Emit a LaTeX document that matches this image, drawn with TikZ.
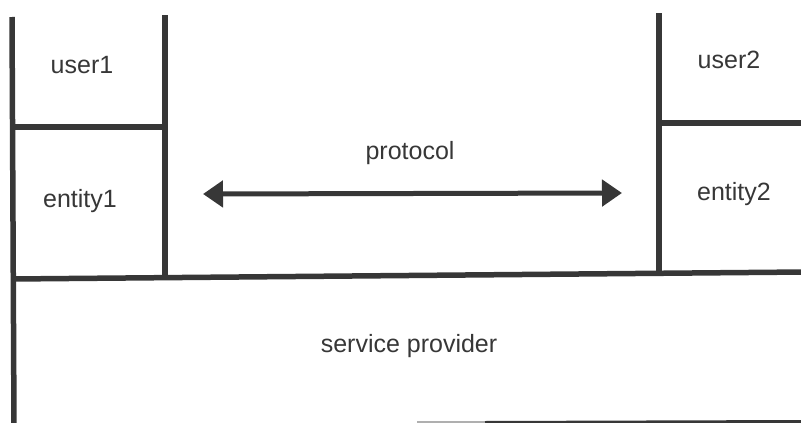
\documentclass[tikz,border=0pt]{standalone}
\usepackage{fontspec}
\setmainfont{Liberation Sans}
\usetikzlibrary{arrows.meta}
\definecolor{ink}{RGB}{55,55,55}
\definecolor{faint}{RGB}{175,175,175}
\begin{document}
\begin{tikzpicture}[x=1pt,y=-1pt,
  wall/.style={draw=ink,line width=5.5pt},
  lbl/.style={text=ink,font=\fontsize{25}{28}\selectfont,anchor=base,inner sep=0pt},
  twoway/.style={draw=ink,line width=5pt,{Triangle[length=20pt,width=26pt]}-{Triangle[length=20pt,width=26pt]}}]
\useasboundingbox (0,0) rectangle (801,423);
% structure lines
\draw[wall] (12,17) -- (14,426);
\draw[wall] (165,15) -- (165,278);
\draw[wall] (12,127) -- (165,127);
\draw[wall] (659,13) -- (659,273);
\draw[wall] (659,123) -- (805,123);
\draw[wall] (12,279) -- (805,272);
\draw[draw=faint,line width=4pt] (417,423) -- (485,423);
\draw[draw=ink,line width=4pt] (485,423) -- (805,422);
% labels
\node[lbl] (user1) at (82,73) {user1};
\node[lbl] (entity1) at (80,207) {entity1};
\node[lbl] (user2) at (729,68) {user2};
\node[lbl] (entity2) at (734,200) {entity2};
\node[lbl] (protocol) at (410,159) {protocol};
\node[lbl] (sp) at (409,352) {service provider};
% protocol arrow
\coordinate (arrL) at (203,194);
\coordinate (arrR) at (622,193);
\draw[twoway] (arrL) -- (arrR);
\end{tikzpicture}
\end{document}
